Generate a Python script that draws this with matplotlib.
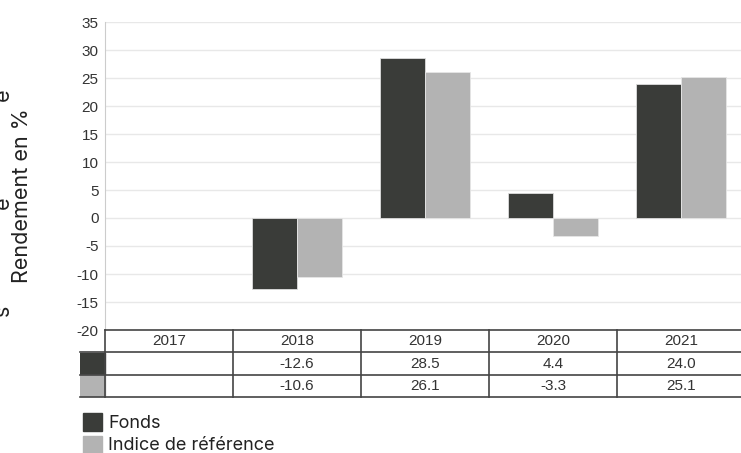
import matplotlib.pyplot as plt
import numpy as np

years = ["2017", "2018", "2019", "2020", "2021"]
fonds = [np.nan, -12.6, 28.5, 4.4, 24.0]
indice = [np.nan, -10.6, 26.1, -3.3, 25.1]
series_names = ["Fonds", "Indice de référence"]
colors = ["#3a3c39", "#b3b3b3"]

plt.rcParams["axes.unicode_minus"] = False

W, H = 741, 453
fig = plt.figure(figsize=(W / 100, H / 100), dpi=100)
tick_font = "Liberation Sans"
label_font = "Inter"

def px(x0, y0, x1, y1):
    # pixel box (top-left origin) -> figure fraction rect
    return [x0 / W, 1 - y1 / H, (x1 - x0) / W, (y1 - y0) / H]

# main bar chart
ax = fig.add_axes(px(105, 22, 745, 330))
x = np.arange(len(years))
w = 0.35
ax.bar(x - w / 2, fonds, w, color=colors[0], edgecolor="#dddddd", linewidth=0.6, zorder=3)
ax.bar(x + w / 2, indice, w, color=colors[1], edgecolor="#e6e6e6", linewidth=0.6, zorder=3)
ax.set_xlim(-0.5, 4.5)
ax.set_ylim(-20, 35)
ax.set_yticks(np.arange(-20, 36, 5))
ax.set_xticks([])
ax.grid(axis="y", color="#e8e8e8", linewidth=1, zorder=0)
for s in ["top", "right", "bottom"]:
    ax.spines[s].set_visible(False)
ax.spines["left"].set_color("#cccccc")
ax.tick_params(axis="y", length=0, pad=4.5, labelsize=11, labelcolor="#333333")
for lab in ax.get_yticklabels():
    lab.set_fontfamily(tick_font)

fig.text(22 / W, 1 - 196 / H, "Rendement en %", rotation=90, ha="center", va="center",
         fontsize=15.5, family=label_font, color="#222222")
# clipped fragments of an off-canvas label
for yy, ch in [(95, "e"), (203, "e"), (310, "s")]:
    fig.text(3 / W, 1 - yy / H, ch, rotation=90, ha="center", va="center",
             fontsize=15.5, family=label_font, color="#222222")

# data table under the chart
sw = 25 / 128
tax = fig.add_axes(px(80, 330, 745, 397))
tax.set_xlim(-0.5 - sw, 4.5)
tax.set_ylim(3, 0)
tax.axis("off")
lc = "#444444"
tax.plot([-0.5, 4.5], [0, 0], color=lc, lw=1.2, clip_on=False)
for r in [1, 2, 3]:
    tax.plot([-0.5 - sw, 4.5], [r, r], color=lc, lw=1.2, clip_on=False)
for i in range(len(years) + 1):
    tax.plot([i - 0.5, i - 0.5], [0, 3], color=lc, lw=1.2, clip_on=False)
tax.fill_between([-0.5 - sw, -0.5], 1.03, 1.97, color=colors[0])
tax.fill_between([-0.5 - sw, -0.5], 2.03, 2.97, color=colors[1])
for i, yr in enumerate(years):
    tax.text(i, 0.5, yr, ha="center", va="center", fontsize=11, family=tick_font, color="#333333")
    for r, vals in enumerate([fonds, indice]):
        if not np.isnan(vals[i]):
            tax.text(i, 1.5 + r, f"{vals[i]:.1f}", ha="center", va="center",
                     fontsize=11, family=tick_font, color="#333333")

# legend
for k, name in enumerate(series_names):
    y0 = 413 + k * 23
    fig.patches.append(plt.Rectangle((83 / W, 1 - (y0 + 18) / H), 19 / W, 18 / H,
                                     transform=fig.transFigure, color=colors[k]))
    fig.text(108 / W, 1 - (y0 + 10) / H, name, ha="left", va="center",
             fontsize=13, family=label_font, color="#222222")

fig.savefig("out.png", dpi=100)
